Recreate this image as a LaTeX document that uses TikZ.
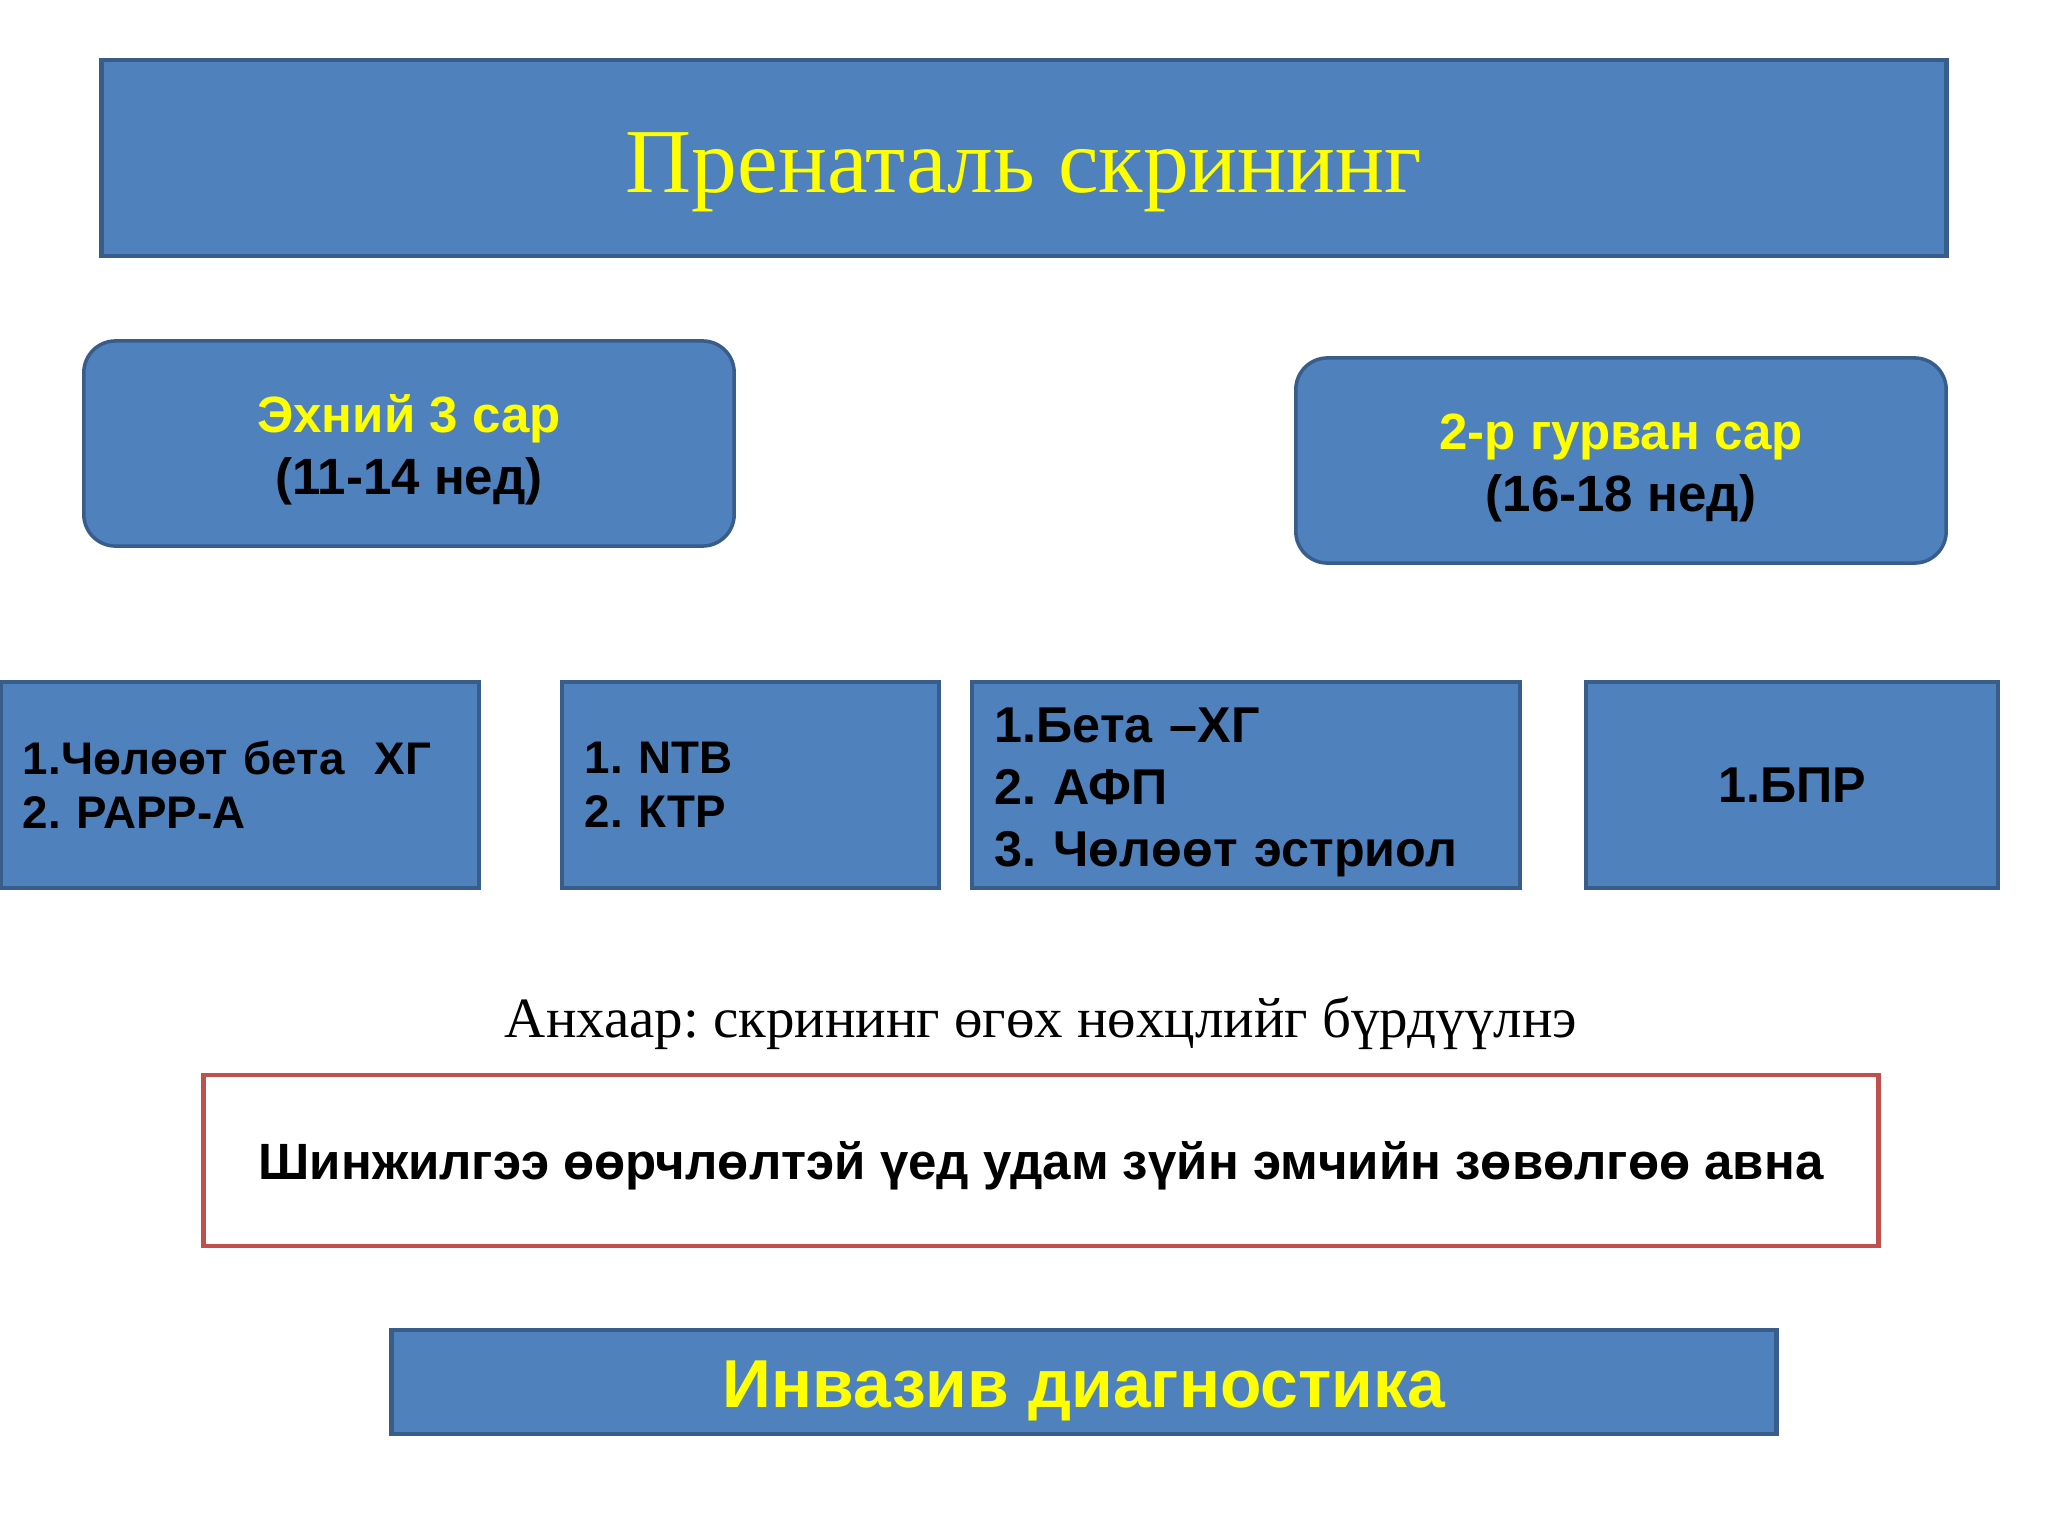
\documentclass[tikz,border=0pt]{standalone}
\usepackage{fontspec}
\setmainfont{Liberation Serif}
\newfontfamily\arialfont{Liberation Sans}
\definecolor{boxblue}{HTML}{4F81BD}
\definecolor{boxedge}{HTML}{385D8A}
\definecolor{txtyellow}{HTML}{FFFF00}
\definecolor{edgered}{HTML}{C0504D}
\frenchspacing
\newcommand{\lowerby}[2]{\raisebox{-#1}[\height][\depth]{#2}}
\tikzset{
  bluebox/.style={draw=boxedge, fill=boxblue, line width=1pt, inner sep=0pt},
  roundbox/.style={bluebox, rounded corners=9pt, align=center,
     font=\arialfont\bfseries\fontsize{14.5}{17.6}\selectfont},
  listbox/.style={bluebox, align=left, inner xsep=0.22cm,
     font=\arialfont\bfseries\fontsize{13}{15.3}\selectfont},
  listboxbig/.style={bluebox, align=left, inner xsep=0.23cm,
     font=\arialfont\bfseries\fontsize{14.3}{17.6}\selectfont},
}
\begin{document}
\begin{tikzpicture}[x=0.01cm, y=-0.01cm]
\useasboundingbox[fill=white] (0,0) rectangle (2048,1536);

% title
\node[bluebox, line width=1.2pt, minimum width=18.44cm, minimum height=1.96cm,
      font=\fontsize{26}{30}\selectfont, text=txtyellow] (title) at (1024,158)
      {\lowerby{4.1pt}{Пренаталь скрининг}};

% trimester boxes
\node[roundbox, minimum width=6.50cm, minimum height=2.05cm] (first) at (409,443.5)
  {\lowerby{1.9pt}{\textcolor{txtyellow}{Эхний 3 сар}}\\\lowerby{1.9pt}{(11-14 нед)}};
\node[roundbox, minimum width=6.50cm, minimum height=2.05cm] (second) at (1621,460.5)
  {\lowerby{2.2pt}{\textcolor{txtyellow}{2-р гурван сар}}\\\lowerby{2.2pt}{(16-18 нед)}};

% test boxes
\node[listbox, minimum width=4.78cm, minimum height=2.06cm, text width=4.34cm] (t1) at (240,785)
  {1.Чөлөөт бета~~ХГ\\2. PAPP-A};
\node[listbox, minimum width=3.77cm, minimum height=2.06cm, text width=3.31cm] (t2) at (750.5,785)
  {1. NTB\\2. КТР};
\node[listboxbig, minimum width=5.48cm, minimum height=2.06cm, text width=5.02cm] (t3) at (1246,785)
  {\lowerby{2pt}{1.Бета –ХГ}\\\lowerby{2pt}{2. АФП}\\\lowerby{2pt}{3. Чөлөөт эстриол}};
\node[bluebox, minimum width=4.12cm, minimum height=2.06cm,
      font=\arialfont\bfseries\fontsize{14.3}{17}\selectfont] (t4) at (1792,785)
  {1.БПР};

% note
\node[font=\fontsize{16.2}{19}\selectfont] (note) at (1041,1023)
  {Анхаар: скрининг өгөх нөхцлийг бүрдүүлнэ};

% red box
\node[draw=edgered, line width=1.3pt, fill=white, minimum width=16.74cm, minimum height=1.71cm,
      font=\arialfont\bfseries\fontsize{14.5}{16}\selectfont] (warn) at (1041,1160.5)
  {\lowerby{1.5pt}{Шинжилгээ өөрчлөлтэй үед удам зүйн эмчийн зөвөлгөө авна}};

% invasive
\node[bluebox, line width=1.2pt, minimum width=13.84cm, minimum height=1.04cm,
      font=\arialfont\bfseries\fontsize{19.3}{23}\selectfont, text=txtyellow] (inv) at (1084,1382)
  {\lowerby{2.6pt}{Инвазив диагностика}};
\end{tikzpicture}
\end{document}
